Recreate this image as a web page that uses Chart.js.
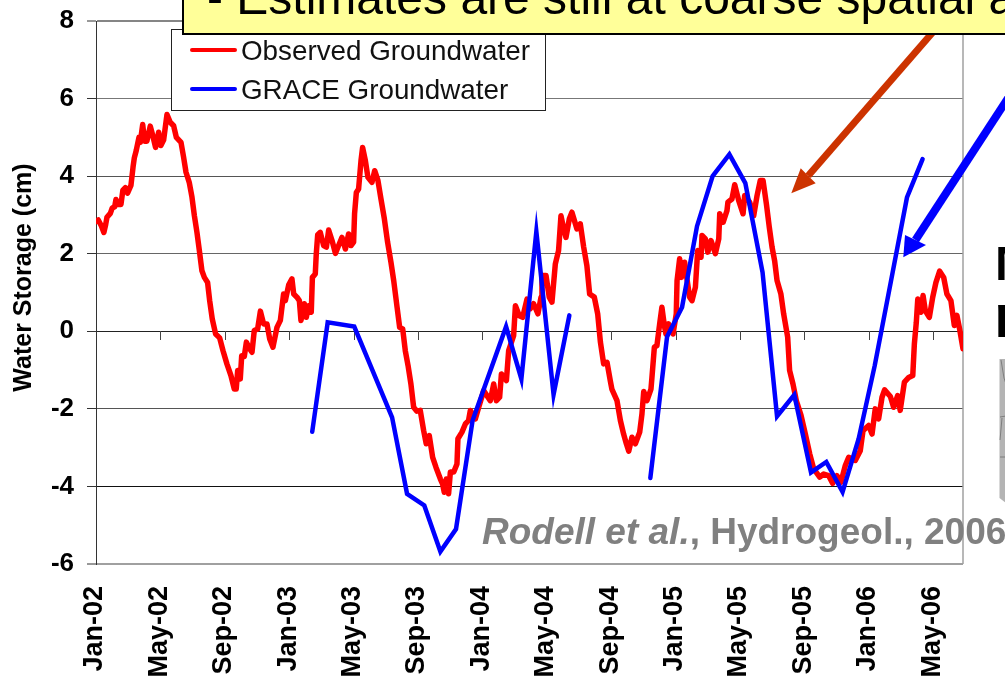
<!DOCTYPE html>
<html>
<head>
<meta charset="utf-8">
<title>Observed and GRACE groundwater</title>
<style>
html,body{margin:0;padding:0;background:#fff;overflow:hidden}
canvas{display:block}
</style>
<script src="https://cdn.jsdelivr.net/npm/chart.js@4/dist/chart.umd.min.js"></script>
</head>
<body>
<canvas id="c" width="1005" height="680"></canvas>
<script>
// Time is in months since Jan-02
const tickLabels = ["Jan-02","May-02","Sep-02","Jan-03","May-03","Sep-03","Jan-04","May-04","Sep-04","Jan-05","May-05","Sep-05","Jan-06","May-06"];
const seriesNames = ["Observed Groundwater","GRACE Groundwater"];
const observedMonths = [0,.14,.33,.49,.60,.68,.89,1.01,1.16,1.24,1.36,1.55,1.67,1.82,1.96,2.17,2.30,2.38,2.50,2.67,2.75,2.90,3.02,3.16,3.37,3.50,3.70,3.89,4.03,4.20,4.41,4.61,4.82,4.99,5.28,5.44,5.59,5.79,5.96,6.11,6.27,6.42,6.58,6.73,6.93,7.06,7.22,7.43,7.68,7.89,8.13,8.38,8.59,8.71,8.80,8.96,9.05,9.21,9.34,9.54,
9.69,9.83,10.04,10.21,10.41,10.62,10.79,10.99,11.24,11.45,11.65,11.76,11.97,12.17,12.28,12.48,12.63,12.73,12.94,13.06,13.21,13.37,13.44,13.62,13.68,13.77,13.93,14.14,14.31,14.45,14.66,14.87,15.07,15.28,15.49,15.69,15.84,16.00,16.06,16.17,16.31,16.46,16.56,16.73,16.89,17.14,17.31,17.51,17.70,17.91,18.11,18.32,18.49,18.70,18.86,
19.05,19.21,19.38,19.56,19.73,19.93,20.14,20.35,20.51,20.70,20.91,21.12,21.39,21.53,21.63,21.76,21.90,22.01,22.22,22.42,22.48,22.73,22.94,23.14,23.25,23.56,23.77,24.08,24.49,24.70,24.87,25.07,25.18,25.49,25.63,25.94,26.05,26.29,26.50,26.77,26.97,27.18,27.45,27.64,27.70,27.95,28.15,28.32,28.53,28.73,28.88,29.05,29.19,29.40,29.56,29.87,30.08,30.29,30.49,30.66,30.95,31.16,31.33,31.53,
31.74,31.94,32.04,32.36,32.57,32.77,32.94,33.09,33.29,33.50,33.77,33.91,34.02,34.22,34.47,34.53,34.68,34.84,35.01,35.15,35.30,35.40,35.56,35.84,36.04,36.09,36.25,36.36,36.56,36.75,36.87,37.02,37.23,37.37,37.58,37.64,37.85,38.00,38.20,38.47,38.68,38.74,38.95,39.19,39.25,39.50,39.67,39.92,40.19,40.29,40.60,40.85,41.06,41.26,41.43,41.64,41.82,41.99,42.15,42.30,42.54,42.71,42.96,43.08,
43.29,43.50,43.79,44.06,44.33,44.58,44.95,45.20,45.50,45.75,46.02,46.27,46.54,46.75,47.16,47.47,47.64,47.99,48.20,48.40,48.61,48.82,48.98,49.34,49.54,49.79,49.95,50.21,50.48,50.73,50.83,50.95,51.04,51.24,51.37,51.51,51.76,51.97,52.17,52.40,52.65,52.85,53.10,53.31,53.47,53.64,53.85];
const observedValues = [2.83,2.87,2.72,2.55,2.75,2.94,3.04,3.18,3.21,3.40,3.27,3.27,3.64,3.70,3.56,3.76,4.23,4.47,4.66,5.00,4.87,5.33,4.90,4.90,5.29,5.09,4.74,5.13,4.79,4.93,5.59,5.39,5.30,5.00,4.87,4.49,4.10,3.84,3.46,2.98,2.55,2.08,1.56,1.39,1.26,.79,.32,-.07,-.17,-.50,-.84,-1.14,-1.49,-1.49,-1.01,-1.23,-.63,-.65,-.28,-.45,
-.54,.02,.06,.52,.19,.19,-.20,-.41,.10,.28,.96,.79,1.20,1.35,.96,.88,.79,.28,.71,.36,.66,.49,1.39,1.48,1.99,2.49,2.55,2.21,2.17,2.61,2.34,2.01,2.21,2.42,2.12,2.51,2.21,2.30,3.03,3.58,3.67,4.40,4.74,4.40,3.97,3.84,4.14,3.89,3.41,2.90,2.30,1.78,1.31,.62,.10,
.06,-.50,-.88,-1.36,-1.96,-2.06,-2.04,-2.56,-2.90,-2.69,-3.25,-3.51,-3.81,-3.94,-4.15,-3.81,-4.19,-3.63,-3.63,-3.42,-2.77,-2.60,-2.39,-2.30,-2.04,-2.26,-1.96,-1.53,-1.79,-1.36,-1.79,-1.70,-1.10,-1.27,-.50,-.11,.66,.40,.36,.83,.58,.71,.45,.88,1.44,1.44,.88,.75,1.74,2.08,2.98,2.64,2.42,2.90,3.07,2.64,2.77,2.17,1.69,.96,.88,.45,-.28,-.84,
-.80,-1.27,-1.49,-1.79,-2.30,-2.65,-2.90,-3.09,-2.73,-2.90,-2.60,-2.13,-1.55,-1.79,-1.49,-1.19,-.41,-.37,.19,.62,.15,-.07,.19,-.07,.45,1.31,1.87,1.39,1.78,1.22,.88,.79,1.14,2.08,1.91,2.47,2.38,2.04,2.34,2.00,2.38,3.03,2.81,3.11,3.33,3.41,3.78,3.37,3.03,3.50,3.33,2.98,3.50,3.89,3.89,3.28,2.68,2.17,1.82,1.31,.96,.45,-.15,-1.01,
-1.36,-1.79,-2.17,-2.65,-3.16,-3.55,-3.76,-3.68,-3.72,-3.92,-3.72,-3.89,-3.46,-3.25,-3.33,-3.08,-2.56,-2.43,-2.65,-2.00,-2.26,-1.70,-1.51,-1.68,-1.96,-1.66,-2.04,-1.31,-1.19,-1.14,-.32,.23,.83,.49,.92,.53,.36,.88,1.26,1.55,1.39,.96,.79,.15,.41,.06,-.45];
const graceMonths = [13.43,14.39,16.04,18.39,19.32,20.39,21.39,22.36,23.39,25.47,26.42,27.35,28.42,29.40,31.90,34.43,35.47,36.40,37.33,38.30,39.34,40.33,41.40,42.30,43.37,44.41,45.36,46.37,47.37,48.37,49.37,50.37,51.34];
const graceValues = [-2.59,.23,.12,-2.22,-4.19,-4.49,-5.68,-5.10,-2.30,.12,-1.23,2.57,-1.63,.41,null,-3.78,-.14,.62,2.71,4.00,4.56,3.82,1.52,-2.19,-1.64,-3.64,-3.37,-4.14,-2.77,-.88,1.28,3.45,4.44];
const yTitle = "Water Storage (cm)";
const calloutText = "- Estimates are still at coarse spatial a";
const citeItalic = "Rodell et al.";
const citeRegular = ", Hydrogeol., 2006";

const FONT = '"Liberation Sans", Arial, sans-serif';
const gridColors = {"8":"#858585","6":"#777777","4":"#555555","2":"#666666","0":"#222222","-2":"#555555","-4":"#111111","-6":"#a0a0a0"};
const gridWidths = {"8":2,"-6":2};

function arrow(ctx, x0, y0, x1, y1, wing1, wing2, color, width){
  ctx.save();
  ctx.strokeStyle = color; ctx.fillStyle = color; ctx.lineWidth = width;
  ctx.beginPath();
  ctx.moveTo(x0, y0);
  ctx.lineTo((wing1[0]+wing2[0])/2, (wing1[1]+wing2[1])/2);
  ctx.stroke();
  ctx.beginPath();
  ctx.moveTo(x1, y1); ctx.lineTo(wing1[0], wing1[1]); ctx.lineTo(wing2[0], wing2[1]);
  ctx.closePath(); ctx.fill();
  ctx.restore();
}

const framePlugin = {
  id: "frame",
  beforeDatasetsDraw(chart){
    const {ctx, chartArea:a, scales:{x, y}} = chart;
    ctx.save();
    // right border
    ctx.strokeStyle = "#a0a0a0"; ctx.lineWidth = 1.5;
    ctx.beginPath(); ctx.moveTo(a.right, a.top); ctx.lineTo(a.right, a.bottom); ctx.stroke();
    // x tick marks sit on the zero line
    const y0 = Math.round(y.getPixelForValue(0));
    ctx.strokeStyle = "#444"; ctx.lineWidth = 1;
    x.ticks.forEach(t => {
      if (t.value === 0) return;
      const px = Math.round(x.getPixelForValue(t.value)) + .5;
      ctx.beginPath(); ctx.moveTo(px, y0); ctx.lineTo(px, y0 + 9); ctx.stroke();
    });
    ctx.restore();
  },
  afterDraw(chart){
    const {ctx} = chart;
    ctx.save();
    // legend
    ctx.fillStyle = "#fff"; ctx.strokeStyle = "#222"; ctx.lineWidth = 1;
    ctx.fillRect(171.5, 29.5, 374, 81);
    ctx.strokeRect(171.5, 29.5, 374, 81);
    ctx.textBaseline = "alphabetic"; ctx.textAlign = "left";
    ctx.font = "27.8px " + FONT;
    chart.data.datasets.forEach((d, i) => {
      const ly = 50 + i * 39;
      ctx.strokeStyle = d.borderColor; ctx.lineWidth = 4; ctx.lineCap = "round";
      ctx.beginPath(); ctx.moveTo(192, ly); ctx.lineTo(235, ly); ctx.stroke();
      ctx.fillStyle = "#111";
      ctx.fillText(d.label, 241, ly + 9.5);
    });
    ctx.lineCap = "butt";
    // arrows
    arrow(ctx, 933, 32, 791.3, 193.3, [800.7,168.3], [815.7,183.3], "#CC3300", 7);
    arrow(ctx, 1012, 92, 903.3, 257.3, [905,235], [926,245], "#0000FF", 8);
    // callout
    ctx.fillStyle = "#FFFF99"; ctx.strokeStyle = "#000"; ctx.lineWidth = 2;
    ctx.fillRect(183, -5, 840, 39);
    ctx.strokeRect(183, -5, 840, 39);
    ctx.fillStyle = "#000"; ctx.font = "48px " + FONT;
    ctx.fillText(calloutText, 207, 14);
    // citation
    ctx.fillStyle = "#808080";
    ctx.font = "italic bold 37px " + FONT;
    ctx.fillText(citeItalic, 482, 544);
    const w = ctx.measureText(citeItalic).width;
    ctx.font = "bold 37px " + FONT;
    ctx.fillText(citeRegular, 482 + w, 544);
    // neighbouring slide content cut by the right edge
    ctx.fillStyle = "#000";
    ctx.font = "bold 49px " + FONT;
    ctx.fillText("M", 995, 280);
    ctx.font = "bold 62px " + FONT;
    ctx.fillText("r", 994, 337);
    ctx.fillStyle = "#B4B4B4";
    ctx.beginPath();
    ctx.moveTo(999.5, 359); ctx.lineTo(1006, 359); ctx.lineTo(1006, 503); ctx.lineTo(999.5, 498);
    ctx.closePath(); ctx.fill();
    ctx.strokeStyle = "#666"; ctx.lineWidth = .7;
    ctx.beginPath();
    ctx.moveTo(1000, 417); ctx.lineTo(1006, 416);
    ctx.moveTo(1000, 457); ctx.lineTo(1006, 457);
    ctx.moveTo(1001, 360); ctx.lineTo(1004, 378); ctx.lineTo(1006, 384);
    ctx.moveTo(1002, 418); ctx.lineTo(1000, 440);
    ctx.stroke();
    ctx.restore();
  }
};

new Chart(document.getElementById("c"), {
  type: "line",
  data: {
    datasets: [
      { label: seriesNames[0], order: 2,
        data: observedMonths.map((m, i) => ({x: m, y: observedValues[i]})),
        borderColor: "#FF0000", borderWidth: 5.5, pointRadius: 0, tension: 0,
        borderJoinStyle: "round", borderCapStyle: "round" },
      { label: seriesNames[1], order: 1,
        data: graceMonths.map((m, i) => ({x: m, y: graceValues[i]})),
        borderColor: "#0000FF", borderWidth: 4.5, pointRadius: 0, tension: 0, spanGaps: false,
        borderJoinStyle: "miter", borderCapStyle: "round" }
    ]
  },
  options: {
    responsive: false,
    animation: false,
    events: [],
    layout: { padding: { top: 21, right: 42, left: 0, bottom: 0 } },
    plugins: { legend: { display: false }, tooltip: { enabled: false }, title: { display: false } },
    scales: {
      x: {
        type: "linear", min: 0, max: 53.85,
        afterFit(s){ s.height = 116; s.paddingLeft = 0; s.paddingRight = 0; },
        grid: { display: false },
        border: { display: false },
        ticks: {
          stepSize: 4, includeBounds: false, autoSkip: false,
          minRotation: 90, maxRotation: 90, padding: 14, labelOffset: -1,
          color: "#000", font: { family: FONT, size: 27, weight: "bold" },
          callback: v => tickLabels[v / 4]
        }
      },
      y: {
        min: -6, max: 8,
        afterFit(s){
          s.width = 96;
          s.paddingTop = 0; s.paddingBottom = 0;
          if (!s._shifted) {
            const draw = s.drawTitle;
            s.drawTitle = function(){ const c = this.ctx; c.save(); c.translate(0, -15); draw.call(this); c.restore(); };
            s._shifted = true;
          }
        },
        title: { display: true, text: yTitle, color: "#000", padding: { top: 9, bottom: 0 },
                 font: { family: FONT, size: 25, weight: "bold" } },
        border: { color: "#333", width: 1 },
        grid: {
          color: c => gridColors[c.tick.value],
          lineWidth: c => gridWidths[c.tick.value] || 1,
          tickColor: "#333", tickLength: 9, tickWidth: 1
        },
        ticks: { stepSize: 2, padding: 13, color: "#000", font: { family: FONT, size: 26, weight: "bold" } }
      }
    }
  },
  plugins: [framePlugin]
});
</script>
</body>
</html>
